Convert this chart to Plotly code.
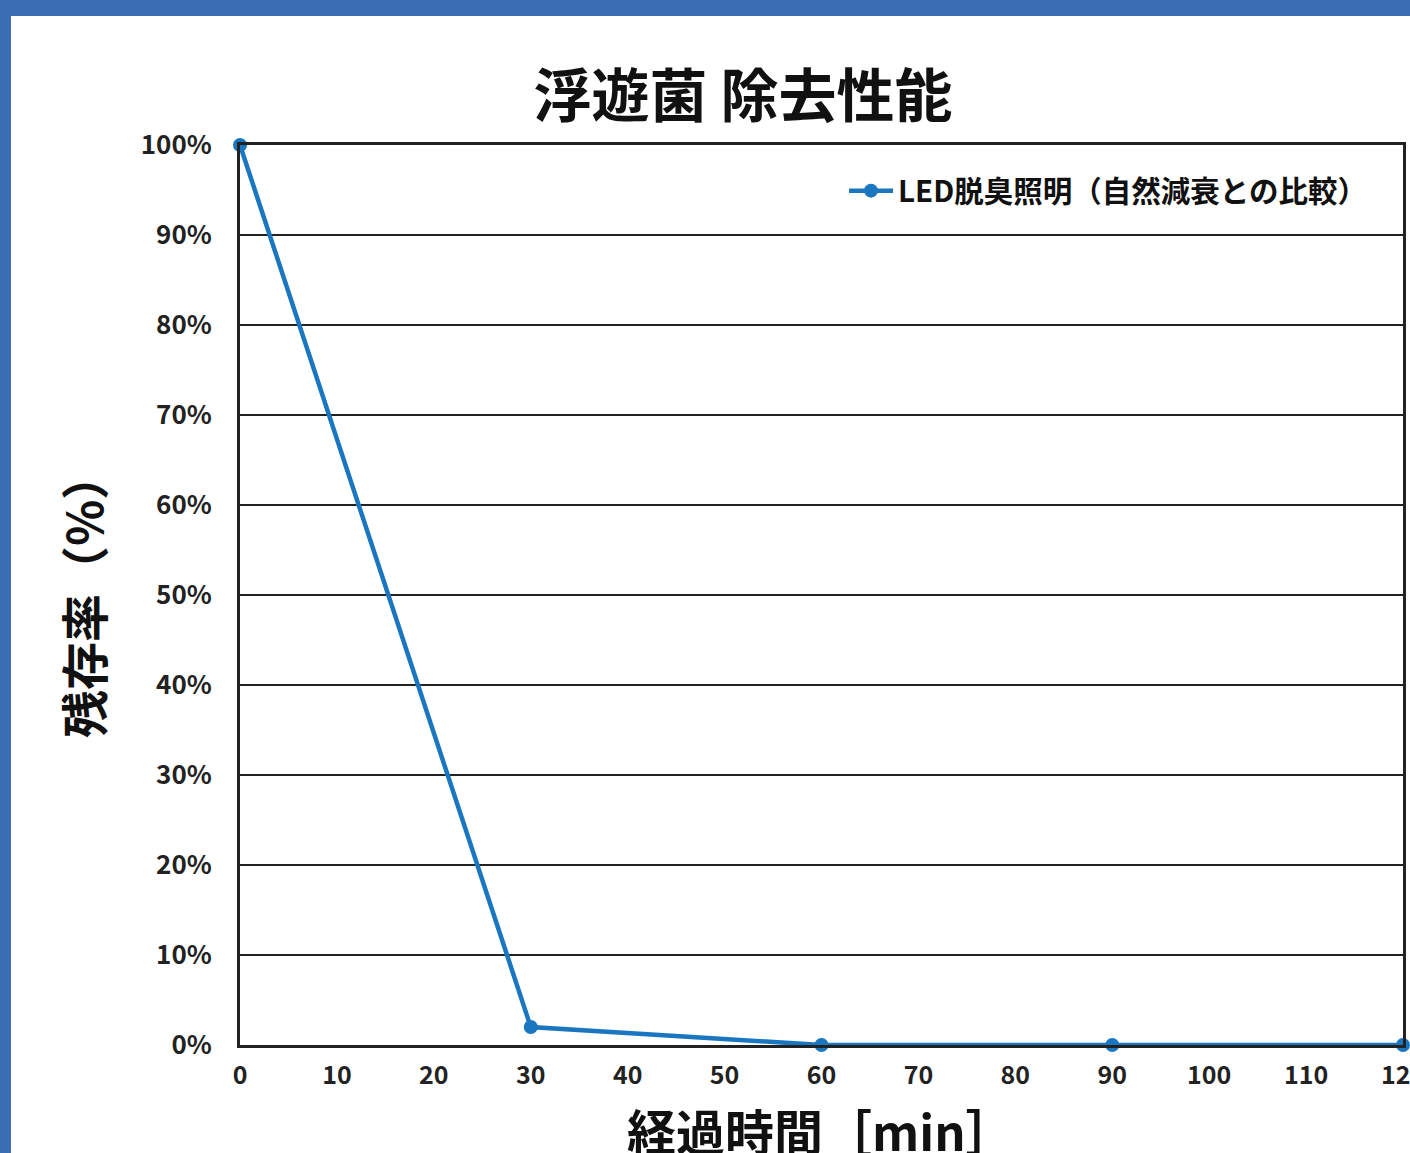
import plotly.graph_objects as go

# Data
minutes = [0, 30, 60, 90, 120]
survival = [100, 2, 0, 0, 0]
series_name = "LED脱臭照明（自然減衰との比較）"
x_ticks = list(range(0, 130, 10))
y_ticks = list(range(0, 110, 10))
y_tick_labels = [f"{v}%" for v in y_ticks]
x_title = "経過時間［min］"
y_title = "残存率（%）"
chart_title = "浮遊菌 除去性能"

W, H = 1410, 1153
ML, MR, MT, MB = 240, 7, 145, 108
pw = W - ML - MR
ph = H - MT - MB
FONT = "Noto Sans CJK JP"
BLUE = "#1b76c0"
FRAME = "#3b6db5"

fig = go.Figure()
fig.add_trace(go.Scatter(
    x=minutes, y=survival, mode="lines+markers", name=series_name,
    line=dict(color=BLUE, width=4.5),
    marker=dict(color=BLUE, size=14),
    cliponaxis=False,
))

def px_x(p):
    return (p - ML) / pw

def px_y(p):
    return (H - MB - p) / ph

shapes = [
    dict(type="rect", xref="paper", yref="paper",
         x0=px_x(0), x1=px_x(W), y0=px_y(0), y1=px_y(16),
         fillcolor=FRAME, line=dict(width=0), layer="below"),
    dict(type="rect", xref="paper", yref="paper",
         x0=px_x(0), x1=px_x(11), y0=px_y(0), y1=px_y(H),
         fillcolor=FRAME, line=dict(width=0), layer="below"),
]

annotations = [
    dict(text=f"<b>{x_title}</b>", xref="paper", yref="paper",
         x=px_x(821), y=px_y(1129), xanchor="center", yanchor="middle",
         showarrow=False, font=dict(size=49, color="#111111", family=FONT)),
]

fig.update_layout(
    width=W, height=H,
    margin=dict(l=ML, r=MR, t=MT, b=MB, pad=0, autoexpand=False),
    paper_bgcolor="white", plot_bgcolor="white",
    font=dict(family=FONT, color="#222222"),
    title=dict(text=f"<b>{chart_title}</b>", x=743 / W, xanchor="center",
               y=1 - 97 / H, yanchor="middle", font=dict(size=58, color="#111111")),
    shapes=shapes,
    annotations=annotations,
    showlegend=True,
    legend=dict(x=px_x(1372), xanchor="right", y=px_y(165), yanchor="top",
                bgcolor="rgba(0,0,0,0)", itemwidth=44,
                font=dict(size=29.5, color="#111111", weight=600)),
    xaxis=dict(range=[0, 120], tickvals=x_ticks, ticktext=[str(v) for v in x_ticks],
               automargin=False,
               showgrid=False, zeroline=False, showline=True, linecolor="#222222",
               linewidth=3, mirror=True, ticks="outside", ticklen=6,
               tickcolor="rgba(0,0,0,0)",
               ticklabeloverflow="allow",
               tickfont=dict(size=25, color="#222222", weight=600)),
    yaxis=dict(range=[0, 100], tickvals=y_ticks, ticktext=y_tick_labels,
               automargin=False,
               showgrid=True, gridcolor="#222222", gridwidth=2, zeroline=False,
               showline=True, linecolor="#222222", linewidth=3, mirror=True,
               ticks="outside", ticklen=20, tickcolor="rgba(0,0,0,0)",
               tickfont=dict(size=26, color="#222222", weight=600),
               title=dict(text=f"<b>{y_title}</b>", font=dict(size=48, color="#111111"),
                          standoff=22)),
)

fig.write_html("out.html", config={"displayModeBar": False},
               post_script="document.body.style.margin='0';")
